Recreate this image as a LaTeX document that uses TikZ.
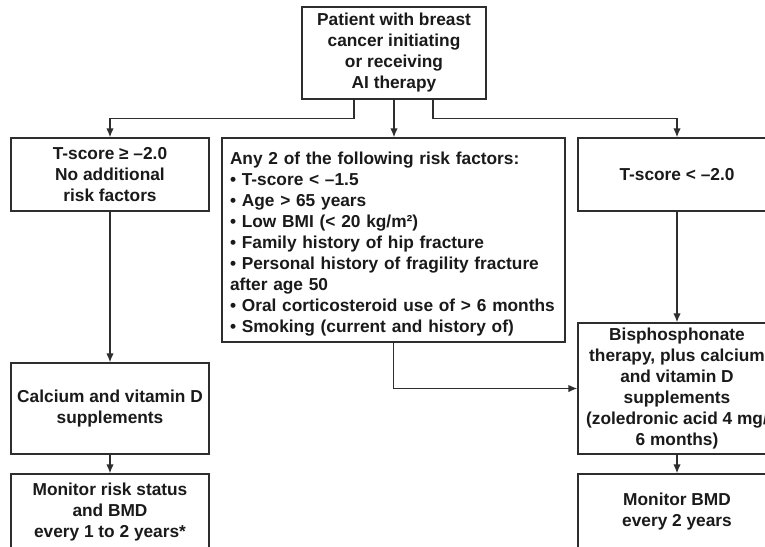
\documentclass[tikz,border=0pt]{standalone}
\usepackage{fontspec}
\setmainfont{Liberation Sans}
\usetikzlibrary{arrows.meta}
\definecolor{linec}{HTML}{2E2E2E}
\definecolor{textc}{HTML}{1A1A1A}
\newcommand{\boxfont}{\fontsize{17.3}{21}\selectfont\bfseries}
\begin{document}
\begin{tikzpicture}[x=1pt,y=-1pt,
  box/.style={draw=linec, line width=1.4pt, fill=white, font=\boxfont, text=textc, align=center, inner sep=3pt},
  arr/.style={-{Latex[length=9pt,width=7.5pt]}, line width=1.4pt, draw=linec}]
\useasboundingbox (0,0) rectangle (765,546);
\clip (0,0) rectangle (765,546);
\fill[white] (0,0) rectangle (765,546);

\node[box, minimum width=184pt, minimum height=92pt] (top) at (394,53)
  {Patient with breast\\cancer initiating\\or receiving\\AI therapy};
\node[box, minimum width=198pt, minimum height=73pt] (left) at (110,174.5)
  {T-score ≥ –2.0\\No additional\\risk factors};
\node[box, minimum width=343pt, minimum height=204pt, align=left,
      text width=327pt, inner xsep=8pt] (mid) at (393.5,240)
  {\rule{0pt}{20pt}Any 2 of the following risk factors:\\
   • T-score < –1.5\\
   • Age > 65 years\\
   • Low BMI (< 20 kg/m²)\\
   • Family history of hip fracture\\
   • Personal history of fragility fracture\\
   after age 50\\
   • Oral corticosteroid use of > 6 months\\
   • Smoking (current and history of)};
\node[box, minimum width=198pt, minimum height=73pt] (right) at (677,174.5)
  {T-score < –2.0};
\node[box, minimum width=198pt, minimum height=131pt] (bis) at (677,388.5)
  {Bisphosphonate\\therapy, plus calcium\\and vitamin D\\supplements\\(zoledronic acid 4 mg/\\6 months)};
\node[box, minimum width=198pt, minimum height=91pt] (calc) at (110,408.5)
  {Calcium and vitamin D\\supplements};
\node[box, minimum width=198pt, minimum height=76pt] (monl) at (110,512)
  {Monitor risk status\\and BMD\\every 1 to 2 years*};
\node[box, minimum width=198pt, minimum height=76pt] (monr) at (677,512)
  {Monitor BMD\\every 2 years};

\draw[arr] ([xshift=-40pt]top.south) -- ++(0,19) -| (left.north);
\draw[arr] (top.south) -- (top.south |- mid.north);
\draw[arr] ([xshift=39pt]top.south) -- ++(0,19) -| (right.north);
\draw[arr] (left.south) -- (calc.north);
\draw[arr] (calc.south) -- (monl.north);
\draw[arr] (right.south) -- (bis.north);
\draw[arr] (bis.south) -- (monr.north);
\draw[arr] (mid.south) |- (bis.west);
\end{tikzpicture}
\end{document}
